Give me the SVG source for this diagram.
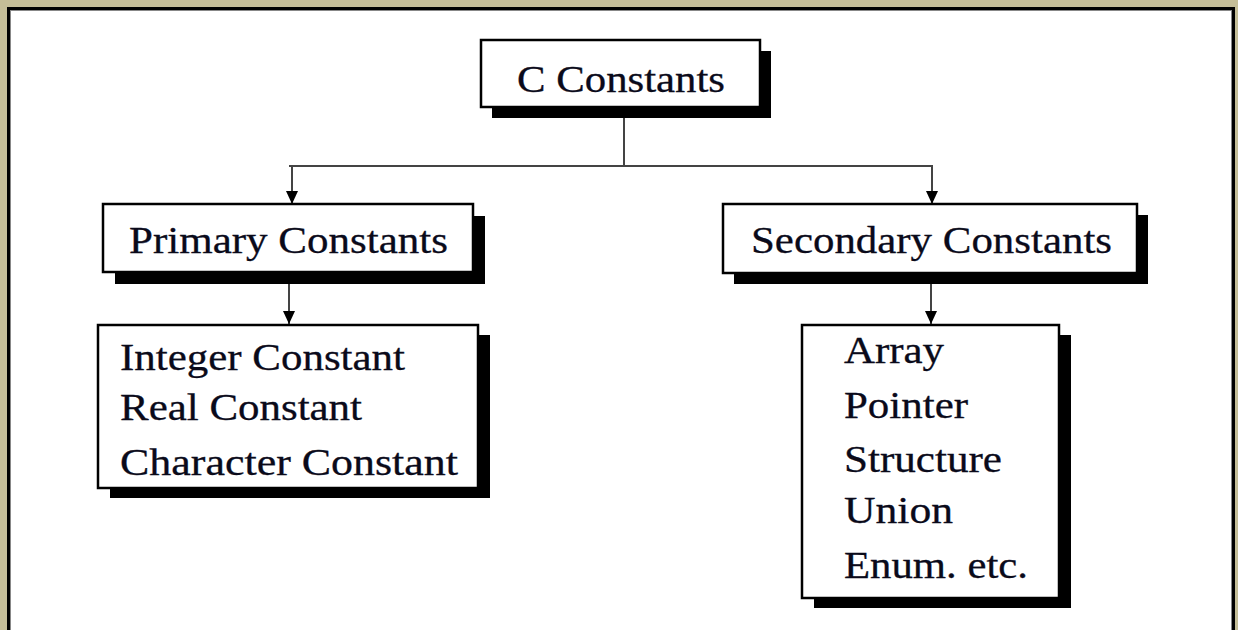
<svg xmlns="http://www.w3.org/2000/svg" width="1238" height="630" viewBox="0 0 1238 630">
<defs>
<marker id="arr" markerWidth="13" markerHeight="12" refX="13" refY="6" orient="auto" markerUnits="userSpaceOnUse">
<path d="M0,0 L13,6 L0,12 Z" fill="#000"/>
</marker>
<style>
.box{fill:#fff;stroke:#000;stroke-width:2.5}
.shadow{fill:#000}
.t{font-family:"Liberation Serif","Times New Roman",serif;font-size:37px;fill:#0a0a1a;stroke:#0a0a1a;stroke-width:0.3}
.c{fill:none;stroke:#444;stroke-width:2}
</style>
</defs>
<rect x="0" y="0" width="1238" height="630" fill="#C4BD97"/>
<rect x="8.5" y="8.5" width="1225" height="640" fill="#fff" stroke="#000" stroke-width="3"/>
<rect x="10.5" y="10.5" width="1221" height="640" fill="none" stroke="#888" stroke-width="1"/>

<g id="connectors">
<polyline class="c" points="624,118 624,166"/>
<polyline class="c" points="289,166 933,166"/>
<line class="c" x1="292" y1="166" x2="292" y2="204" marker-end="url(#arr)"/>
<line class="c" x1="932" y1="166" x2="932" y2="204" marker-end="url(#arr)"/>
<line class="c" x1="289" y1="283" x2="289" y2="324" marker-end="url(#arr)"/>
<line class="c" x1="931" y1="283" x2="931" y2="324" marker-end="url(#arr)"/>
</g>

<g id="c-constants">
<rect class="shadow" x="492" y="51" width="279" height="67"/>
<rect class="box" x="481" y="40" width="279" height="67"/>
<text class="t" x="517" y="92" textLength="208" lengthAdjust="spacingAndGlyphs">C Constants</text>
</g>

<g id="primary-constants">
<rect class="shadow" x="115" y="216" width="370" height="68"/>
<rect class="box" x="103" y="204" width="370" height="68"/>
<text class="t" x="129" y="253" textLength="319" lengthAdjust="spacingAndGlyphs">Primary Constants</text>
</g>

<g id="secondary-constants">
<rect class="shadow" x="734" y="215" width="414" height="69"/>
<rect class="box" x="723" y="204" width="414" height="69"/>
<text class="t" x="751" y="253" textLength="361" lengthAdjust="spacingAndGlyphs">Secondary Constants</text>
</g>

<g id="primary-list">
<rect class="shadow" x="110" y="335" width="380" height="163"/>
<rect class="box" x="98" y="325" width="380" height="163"/>
<text class="t" x="120" y="370" textLength="285" lengthAdjust="spacingAndGlyphs">Integer Constant</text>
<text class="t" x="120" y="420" textLength="242" lengthAdjust="spacingAndGlyphs">Real Constant</text>
<text class="t" x="120" y="475" textLength="338" lengthAdjust="spacingAndGlyphs">Character Constant</text>
</g>

<g id="secondary-list">
<rect class="shadow" x="814" y="335" width="257" height="273"/>
<rect class="box" x="802" y="325" width="257" height="273"/>
<text class="t" x="844" y="363" textLength="100" lengthAdjust="spacingAndGlyphs">Array</text>
<text class="t" x="844" y="418" textLength="124" lengthAdjust="spacingAndGlyphs">Pointer</text>
<text class="t" x="844" y="472" textLength="158" lengthAdjust="spacingAndGlyphs">Structure</text>
<text class="t" x="844" y="523" textLength="109" lengthAdjust="spacingAndGlyphs">Union</text>
<text class="t" x="844" y="578" textLength="184" lengthAdjust="spacingAndGlyphs">Enum. etc.</text>
</g>
</svg>
